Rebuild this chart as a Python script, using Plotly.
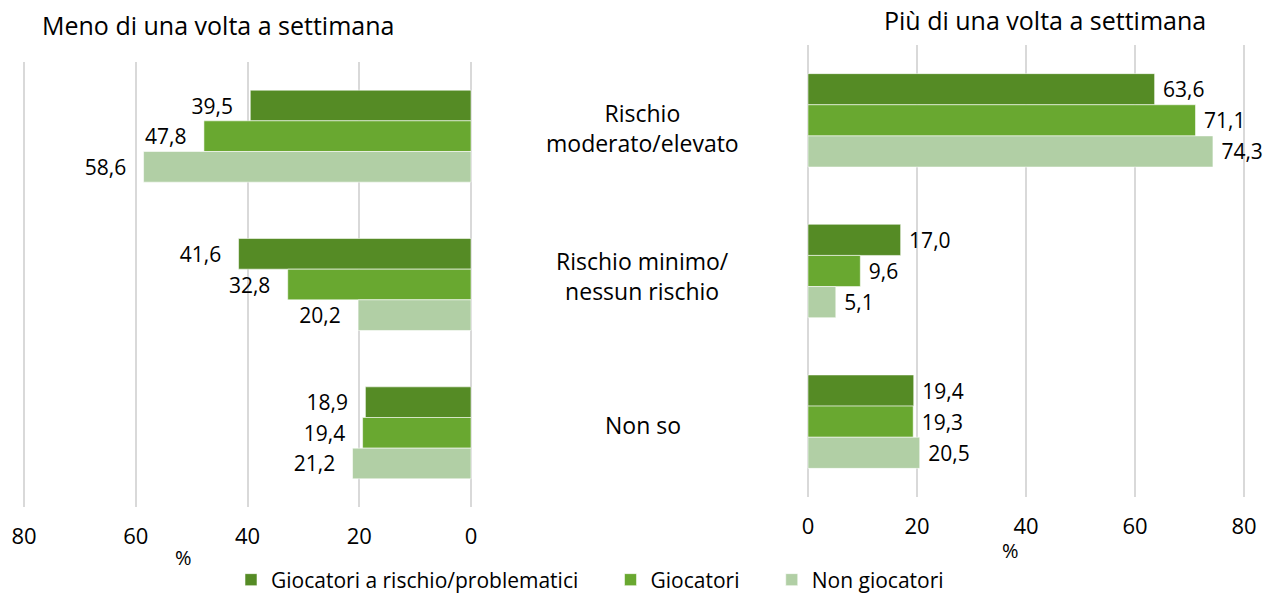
import plotly.graph_objects as go

categories = ["Rischio moderato/elevato", "Rischio minimo/nessun rischio", "Non so"]
category_labels = ["Rischio<br>moderato/elevato", "Rischio minimo/<br>nessun rischio", "Non so"]
series_names = ["Giocatori a rischio/problematici", "Giocatori", "Non giocatori"]
colors = ["#558B25", "#69A830", "#B1CFA5"]

# Meno di una volta a settimana
left_values = [
    [39.5, 41.6, 18.9],
    [47.8, 32.8, 19.4],
    [58.6, 20.2, 21.2],
]
# Più di una volta a settimana
right_values = [
    [63.6, 17.0, 19.4],
    [71.1, 9.6, 19.3],
    [74.3, 5.1, 20.5],
]
tick_vals = [0, 20, 40, 60, 80]
title_left = "Meno di una volta a settimana"
title_right = "Più di una volta a settimana"

FONT = "Open Sans"
W, H = 1265, 593
NB = "\u00a0"
legend_pad = [NB * 5, NB * 5, ""]

fig = go.Figure()
for i, name in enumerate(series_names):
    fig.add_trace(go.Bar(
        y=categories, x=left_values[i], orientation="h", name=name + legend_pad[i],
        marker=dict(color=colors[i], line=dict(color="rgba(255,255,255,0.55)", width=1)),
        texttemplate="%{x:.1f}" + "\u2009" + NB * 2, textposition="outside",
        textfont=dict(size=21, color="black", family=FONT),
        cliponaxis=False, xaxis="x", yaxis="y", showlegend=True,
    ))
for i, name in enumerate(series_names):
    fig.add_trace(go.Bar(
        y=categories, x=right_values[i], orientation="h", name=name,
        marker=dict(color=colors[i], line=dict(color="rgba(255,255,255,0.55)", width=1)),
        texttemplate=NB + "%{x:.1f}", textposition="outside",
        textfont=dict(size=21, color="black", family=FONT),
        cliponaxis=False, xaxis="x2", yaxis="y2", showlegend=False,
    ))

def px_x(p):
    return p / W

def px_y(p):
    return 1 - p / H

# pixel scale: left 0..80 spans 24..471, right 0..80 spans 808..1244
LS = (471 - 24) / 80.0
RS = (1244 - 808) / 80.0
L_LO, L_HI = 81.0, -0.3
R_LO, R_HI = -1.0, 80.3

axis_common = dict(
    tickvals=tick_vals, showgrid=True, gridcolor="#D9D9D9", gridwidth=1.5,
    zeroline=False, showline=False, ticks="", fixedrange=True, automargin=False,
    tickfont=dict(size=22, color="black", family=FONT),
)
yaxis_common = dict(autorange="reversed", showticklabels=False, showgrid=False,
                    zeroline=False, showline=False, automargin=False, fixedrange=True)
fig.update_layout(
    width=W, height=H,
    margin=dict(l=0, r=0, t=0, b=0, autoexpand=False),
    paper_bgcolor="white", plot_bgcolor="white",
    separators=",.",
    barmode="group", bargap=0.38, bargroupgap=0,
    font=dict(family=FONT, color="black"),
    xaxis=dict(domain=[px_x(471 - L_LO * LS), px_x(471 - L_HI * LS)], range=[L_LO, L_HI],
               anchor="y", ticklabelstandoff=14, **axis_common),
    yaxis=dict(domain=[px_y(507), px_y(62)], anchor="x", **yaxis_common),
    xaxis2=dict(domain=[px_x(808 + R_LO * RS), px_x(808 + R_HI * RS)], range=[R_LO, R_HI],
                anchor="y2", ticklabelstandoff=14, **axis_common),
    yaxis2=dict(domain=[px_y(497), px_y(45)], anchor="x2", **yaxis_common),
    legend=dict(orientation="h", x=px_x(231), xanchor="left", y=px_y(580), yanchor="middle",
                font=dict(size=21, color="black", family=FONT), traceorder="normal",
                itemclick=False, itemdoubleclick=False),
)

def note(text, x, y, size):
    return dict(text=text, x=px_x(x), y=px_y(y), xref="paper", yref="paper",
                xanchor="center", yanchor="middle", showarrow=False,
                font=dict(size=size, color="black", family=FONT))

annotations = [
    note(title_left, 218, 25, 25),
    note(title_right, 1045, 20, 25),
    note("%", 183, 557, 20),
    note("%", 1010, 550, 20),
]
for cat, lab in zip(categories, category_labels):
    annotations.append(dict(text=lab, x=px_x(643), y=cat, xref="paper", yref="y",
                            xanchor="center", yanchor="middle",
                            yshift=8, showarrow=False, align="center",
                            font=dict(size=23, color="black", family=FONT)))
fig.update_layout(annotations=annotations)

fig.write_html("out.html", post_script="document.body.style.margin='0';",
               config={"displayModeBar": False})
